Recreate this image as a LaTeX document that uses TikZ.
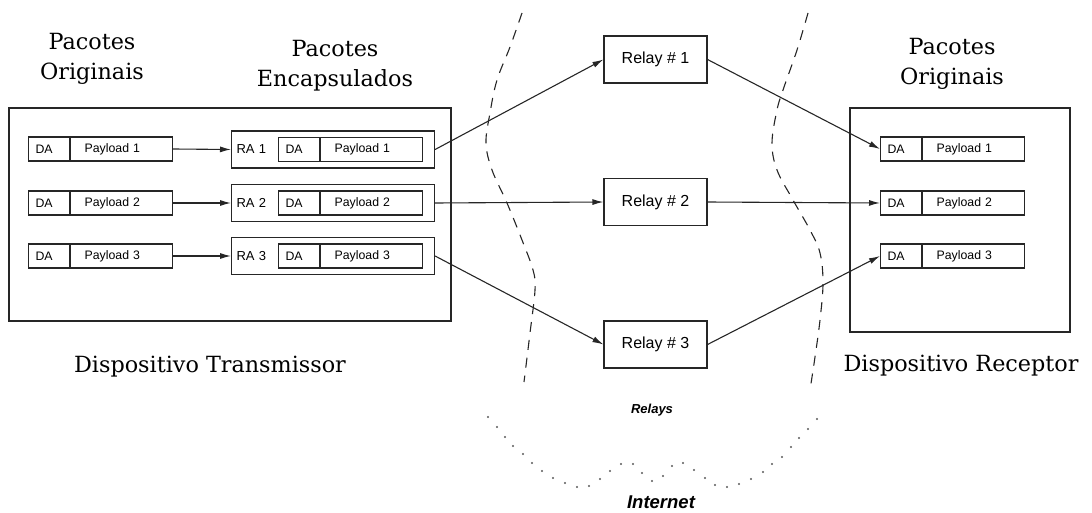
\documentclass[tikz,border=0pt]{standalone}
\usepackage{fontspec}
\setmainfont{DejaVu Serif}
\newfontfamily\arial{Liberation Sans}
\usetikzlibrary{arrows.meta}

\tikzset{
  x=1pt, y=-1pt,
  ln/.style={line width=1.1pt, draw=black!85},
  arr/.style={ln, -{Latex[length=11pt,width=6pt]}},
  box/.style={ln, rectangle, inner sep=0pt, fill=white},
  dacell/.style={box, anchor=west, minimum height=24pt, minimum width=41pt,
    inner xsep=7pt, text width=27pt, align=left, font=\arial\fontsize{12.3}{13}\selectfont},
  plcell/.style={box, anchor=west, minimum height=24pt, minimum width=102pt,
    inner xsep=14pt, text width=74pt, align=left, font=\arial\fontsize{12.3}{13}\selectfont},
  encbox/.style={box, anchor=west, minimum height=37pt, minimum width=203pt,
    inner xsep=5pt, text width=193pt, align=left, font=\arial\fontsize{13}{14}\selectfont},
  relaybox/.style={box, minimum width=103pt, minimum height=47pt,
    font=\arial\fontsize{16}{17}\selectfont},
  device/.style={ln, rectangle, inner sep=0pt},
  title/.style={align=center, font=\fontsize{22.3}{30}\selectfont},
  border/.style={ln, dash pattern=on 10pt off 8pt},
}

\begin{document}
\begin{tikzpicture}
\useasboundingbox (0,0) rectangle (1092,513);

% device frames
\node[device, minimum width=442pt, minimum height=213pt] (tx) at (230,214.5) {};
\node[device, minimum width=220pt, minimum height=224pt] (rx) at (960,220) {};

% network boundaries
\draw[border] plot[smooth, tension=0.6] coordinates {
  (522,13) (510,47) (497,80) (490,113) (486,143) (492,170) (507,203)
  (522,240) (533,270) (535,290) (530,333) (524,382)};
\draw[border] plot[smooth, tension=0.6] coordinates {
  (808,13) (797,50) (783,90) (777,110) (772,143) (777,170) (793,200)
  (810,230) (820,253) (823,283) (820,320) (815,357) (810,390)};
\foreach \p in {(488,417),(497,427),(505,437),(513,446),(523,454),(532,463),
  (542,471),(553,478),(565,483),(577,487),(589,486),(600,479),(610,471),
  (621,464),(633,464),(642,473),(652,481),(663,476),(672,466),(683,463),
  (694,470),(705,478),(715,485),(727,487),(739,484),(751,479),(763,472),
  (772,464),(782,457),(791,447),(799,438),(808,429),(817,419)}
  \fill[black!65] \p circle (1.2pt);

% original packets (transmitter)
\foreach \i/\y in {1/149,2/203,3/256}{
  \node[dacell] (oda\i) at (28,\y) {DA};
  \node[plcell] (opl\i) at (oda\i.east) {Payload \i};
}

% encapsulated packets
\foreach \i/\y in {1/149.5,2/203,3/256}{
  \node[encbox] (enc\i) at (231,\y) {RA \i};
  \node[dacell] (eda\i) at (278,\y) {DA};
  \node[plcell] (epl\i) at (eda\i.east) {Payload \i};
  \draw[arr] (opl\i.east) -- (enc\i.west);
}

% relays
\node[relaybox] (r1) at (655.5,59.5) {Relay \# 1};
\node[relaybox] (r2) at (655.5,202) {Relay \# 2};
\node[relaybox] (r3) at (655.5,344.5) {Relay \# 3};

% received packets
\foreach \i/\y in {1/149,2/203,3/256}{
  \node[dacell] (rda\i) at (880,\y) {DA};
  \node[plcell] (rpl\i) at (rda\i.east) {Payload \i};
}

% paths through the relays
\foreach \i in {1,2,3}{
  \draw[arr] (enc\i.east) -- (r\i.west);
  \draw[arr] (r\i.east) -- (rda\i.west);
}

% titles
\node[title] (t1) at (92,59) {Pacotes\\Originais};
\node[title] (t2) at (335,66) {Pacotes\\Encapsulados};
\node[title] (t3) at (952,64) {Pacotes\\Originais};
\node[title, anchor=base] (t4) at (210,372) {Dispositivo Transmissor};
\node[title, anchor=base] (t5) at (961,371) {Dispositivo Receptor};
\node[font=\arial\bfseries\itshape\fontsize{13}{14}\selectfont] (relays) at (652,410) {Relays};
\node[font=\arial\bfseries\itshape\fontsize{18.5}{19}\selectfont] (inet) at (661,502) {Internet};
\end{tikzpicture}
\end{document}
